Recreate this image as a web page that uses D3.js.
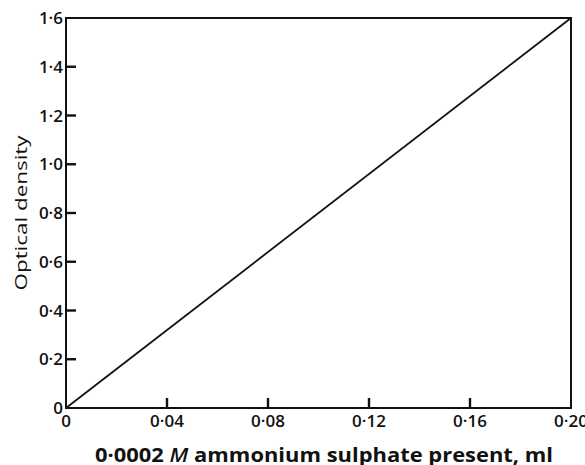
<!DOCTYPE html>
<html><head><meta charset="utf-8">
<script src="https://cdn.jsdelivr.net/npm/d3@7/dist/d3.min.js"></script>
<style>body{margin:0;background:#fff}svg{display:block}text{font-family:"Open Sans",Lato,sans-serif;fill:#111}</style>
</head><body><svg id="c" width="585" height="465"></svg>
<script>
const xTicks = [0, 0.04, 0.08, 0.12, 0.16, 0.20];
const xTickLabels = ["0", "0·04", "0·08", "0·12", "0·16", "0·20"];
const yTicks = [0, 0.2, 0.4, 0.6, 0.8, 1.0, 1.2, 1.4, 1.6];
const yTickLabels = ["0", "0·2", "0·4", "0·6", "0·8", "1·0", "1·2", "1·4", "1·6"];
const lineX = [0, 0.20];
const lineY = [0, 1.6];

const svg = d3.select("#c");
const L = 66, R = 571, T = 18, B = 408;
const x = d3.scaleLinear().domain([0, 0.20]).range([L, R]);
const y = d3.scaleLinear().domain([0, 1.6]).range([B, T]);

// frame
svg.append("rect").attr("x", L).attr("y", T).attr("width", R - L).attr("height", B - T)
  .attr("fill", "none").attr("stroke", "#111").attr("stroke-width", 2);

// inward ticks
svg.append("g").selectAll("rect").data(xTicks.slice(1, -1)).join("rect")
  .attr("x", d => x(d) - 1.2).attr("y", B - 10).attr("width", 2.4).attr("height", 10)
  .attr("fill", "#111");
svg.append("g").selectAll("rect").data(yTicks.slice(1, -1)).join("rect")
  .attr("x", L).attr("y", d => y(d) - 1.2).attr("width", 10).attr("height", 2.4)
  .attr("fill", "#111");

svg.append("g").selectAll("text").data(xTicks).join("text")
  .attr("x", d => x(d)).attr("y", B + 19).attr("text-anchor", "middle")
  .attr("font-size", 17).attr("font-weight", 600)
  .text((d, i) => xTickLabels[i]);
svg.append("g").selectAll("text").data(yTicks).join("text")
  .attr("x", L - 3).attr("y", d => y(d) + 6).attr("text-anchor", "end")
  .attr("font-size", 17).attr("font-weight", 600)
  .text((d, i) => yTickLabels[i]);

// line
const pts = lineX.map((v, i) => [v, lineY[i]]);
svg.append("path").attr("d", d3.line().x(d => x(d[0])).y(d => y(d[1]))(pts))
  .attr("fill", "none").attr("stroke", "#111").attr("stroke-width", 1.8);

// titles
const xt = svg.append("text").attr("x", 95).attr("y", 462)
  .attr("font-size", 19).attr("font-weight", 700)
  .attr("textLength", 458).attr("lengthAdjust", "spacingAndGlyphs");
xt.append("tspan").text("0·0002 ");
xt.append("tspan").attr("font-style", "italic").attr("font-weight", 600).text("M");
xt.append("tspan").text(" ammonium sulphate present, ml");

svg.append("text").attr("transform", `translate(27,213) rotate(-90)`)
  .attr("text-anchor", "middle").attr("font-size", 16)
  .attr("textLength", 155).attr("lengthAdjust", "spacingAndGlyphs").text("Optical density");
</script></body></html>
